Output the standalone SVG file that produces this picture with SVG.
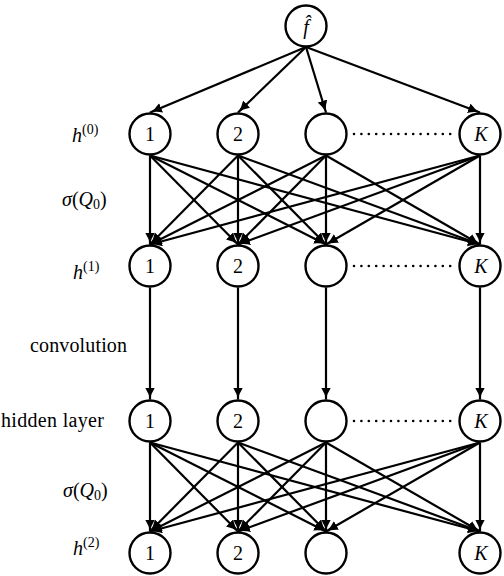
<svg xmlns="http://www.w3.org/2000/svg" width="504" height="576" viewBox="0 0 504 576" font-family="'Liberation Serif', 'Times New Roman', serif">
<style>
.node circle{fill:#fff;stroke:#000;stroke-width:2.4}
.nl{font-family:'Liberation Serif','Times New Roman',serif;font-size:20px;text-anchor:middle;fill:#000}
.it{font-style:italic}
.lab{font-family:'Liberation Serif','Times New Roman',serif;font-size:20px;fill:#000}
.sup{font-size:14px}
#edges line{stroke:#000;stroke-width:2.2;marker-end:url(#ah)}
.dots{stroke:#000;stroke-width:2.6;stroke-linecap:round;stroke-dasharray:0 7.4}
</style>
<defs>
<marker id="ah" markerUnits="userSpaceOnUse" markerWidth="14" markerHeight="12" refX="12" refY="5" orient="auto">
<path d="M0,0 Q6,4 12,5 Q6,6 0,10 Z" fill="#000"/>
</marker>
</defs>
<rect width="504" height="576" fill="#fff"/>
<g id="edges">
<line x1="306" y1="47" x2="150" y2="112.5"/>
<line x1="306" y1="47" x2="238" y2="112.5"/>
<line x1="306" y1="47" x2="326" y2="112.5"/>
<line x1="306" y1="47" x2="480" y2="112.5"/>
<line x1="150" y1="155.5" x2="150" y2="244.5"/>
<line x1="150" y1="155.5" x2="238" y2="244.5"/>
<line x1="150" y1="155.5" x2="326" y2="244.5"/>
<line x1="150" y1="155.5" x2="480" y2="244.5"/>
<line x1="238" y1="155.5" x2="150" y2="244.5"/>
<line x1="238" y1="155.5" x2="238" y2="244.5"/>
<line x1="238" y1="155.5" x2="326" y2="244.5"/>
<line x1="238" y1="155.5" x2="480" y2="244.5"/>
<line x1="326" y1="155.5" x2="150" y2="244.5"/>
<line x1="326" y1="155.5" x2="238" y2="244.5"/>
<line x1="326" y1="155.5" x2="326" y2="244.5"/>
<line x1="326" y1="155.5" x2="480" y2="244.5"/>
<line x1="480" y1="155.5" x2="150" y2="244.5"/>
<line x1="480" y1="155.5" x2="238" y2="244.5"/>
<line x1="480" y1="155.5" x2="326" y2="244.5"/>
<line x1="480" y1="155.5" x2="480" y2="244.5"/>
<line x1="150" y1="287.5" x2="150" y2="399.5"/>
<line x1="238" y1="287.5" x2="238" y2="399.5"/>
<line x1="326" y1="287.5" x2="326" y2="399.5"/>
<line x1="480" y1="287.5" x2="480" y2="399.5"/>
<line x1="150" y1="442.5" x2="150" y2="531.5"/>
<line x1="150" y1="442.5" x2="238" y2="531.5"/>
<line x1="150" y1="442.5" x2="326" y2="531.5"/>
<line x1="150" y1="442.5" x2="480" y2="531.5"/>
<line x1="238" y1="442.5" x2="150" y2="531.5"/>
<line x1="238" y1="442.5" x2="238" y2="531.5"/>
<line x1="238" y1="442.5" x2="326" y2="531.5"/>
<line x1="238" y1="442.5" x2="480" y2="531.5"/>
<line x1="326" y1="442.5" x2="150" y2="531.5"/>
<line x1="326" y1="442.5" x2="238" y2="531.5"/>
<line x1="326" y1="442.5" x2="326" y2="531.5"/>
<line x1="326" y1="442.5" x2="480" y2="531.5"/>
<line x1="480" y1="442.5" x2="150" y2="531.5"/>
<line x1="480" y1="442.5" x2="238" y2="531.5"/>
<line x1="480" y1="442.5" x2="326" y2="531.5"/>
<line x1="480" y1="442.5" x2="480" y2="531.5"/>
</g>
<g id="dotted">
<line class="dots" x1="354" y1="134" x2="457" y2="134"/>
<line class="dots" x1="354" y1="266" x2="457" y2="266"/>
<line class="dots" x1="354" y1="421" x2="457" y2="421"/>
</g>
<g id="node-f" class="node"><circle cx="306" cy="26" r="20.5"/><text class="nl it" x="306" y="34">f̂</text></g>
<g id="n0-1" class="node"><circle cx="150" cy="134" r="20.5"/><text class="nl" x="150" y="141">1</text></g>
<g id="n0-2" class="node"><circle cx="238" cy="134" r="20.5"/><text class="nl" x="238" y="141">2</text></g>
<g id="n0-3" class="node"><circle cx="326" cy="134" r="20.5"/></g>
<g id="n0-K" class="node"><circle cx="480" cy="134" r="20.5"/><text class="nl it" x="481" y="141">K</text></g>
<g id="n1-1" class="node"><circle cx="150" cy="266" r="20.5"/><text class="nl" x="150" y="273">1</text></g>
<g id="n1-2" class="node"><circle cx="238" cy="266" r="20.5"/><text class="nl" x="238" y="273">2</text></g>
<g id="n1-3" class="node"><circle cx="326" cy="266" r="20.5"/></g>
<g id="n1-K" class="node"><circle cx="480" cy="266" r="20.5"/><text class="nl it" x="481" y="273">K</text></g>
<g id="n2-1" class="node"><circle cx="150" cy="421" r="20.5"/><text class="nl" x="150" y="428">1</text></g>
<g id="n2-2" class="node"><circle cx="238" cy="421" r="20.5"/><text class="nl" x="238" y="428">2</text></g>
<g id="n2-3" class="node"><circle cx="326" cy="421" r="20.5"/></g>
<g id="n2-K" class="node"><circle cx="480" cy="421" r="20.5"/><text class="nl it" x="481" y="428">K</text></g>
<g id="n3-1" class="node"><circle cx="150" cy="553" r="20.5"/><text class="nl" x="150" y="560">1</text></g>
<g id="n3-2" class="node"><circle cx="238" cy="553" r="20.5"/><text class="nl" x="238" y="560">2</text></g>
<g id="n3-3" class="node"><circle cx="326" cy="553" r="20.5"/></g>
<g id="n3-K" class="node"><circle cx="480" cy="553" r="20.5"/><text class="nl it" x="481" y="560">K</text></g>
<g id="labels">
<text class="lab" x="72" y="142"><tspan class="it">h</tspan><tspan class="sup" dy="-8">(0)</tspan></text>
<text class="lab" x="62" y="206"><tspan class="it">σ</tspan>(<tspan class="it">Q</tspan><tspan class="sup" dy="3">0</tspan><tspan dy="-3">)</tspan></text>
<text class="lab" x="73" y="279"><tspan class="it">h</tspan><tspan class="sup" dy="-8">(1)</tspan></text>
<text class="lab" x="30" y="352" textLength="97">convolution</text>
<text class="lab" x="1" y="427" textLength="103">hidden layer</text>
<text class="lab" x="63" y="497"><tspan class="it">σ</tspan>(<tspan class="it">Q</tspan><tspan class="sup" dy="3">0</tspan><tspan dy="-3">)</tspan></text>
<text class="lab" x="73" y="555"><tspan class="it">h</tspan><tspan class="sup" dy="-8">(2)</tspan></text>
</g>
</svg>
